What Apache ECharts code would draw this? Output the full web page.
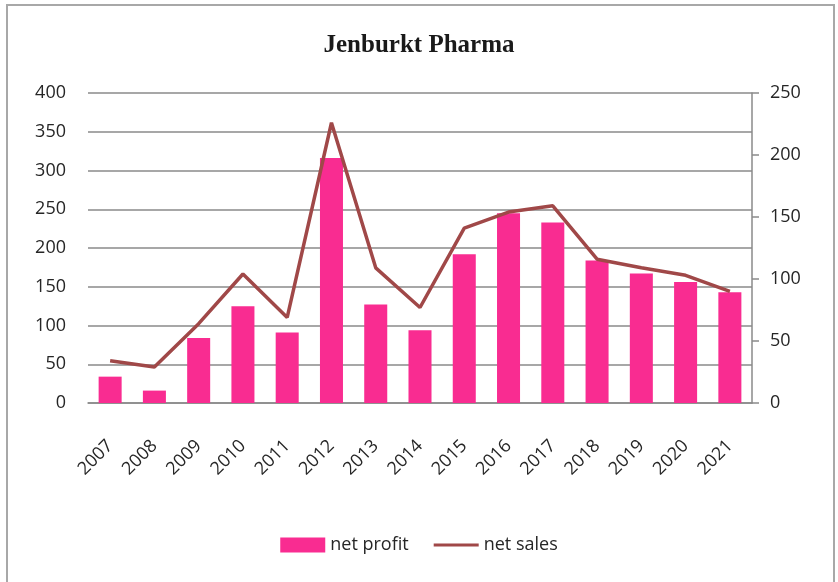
<!DOCTYPE html>
<html>
<head>
<meta charset="utf-8">
<script src="https://cdn.jsdelivr.net/npm/echarts@6/dist/echarts.min.js"></script>
<style>html,body{margin:0;padding:0;background:#fff;}#c{width:838px;height:582px;}</style>
</head>
<body>
<div id="c"></div>
<script>
var years = ['2007','2008','2009','2010','2011','2012','2013','2014','2015','2016','2017','2018','2019','2020','2021'];
var netProfit = [34, 16, 84, 125, 91, 316, 127, 94, 192, 245, 233, 184, 167, 156, 143];
var netSales = [34, 29, 64, 104, 69, 226, 109, 77, 141, 154, 159, 116, 109, 103, 90];
var leftTicks = [0, 400, 50];
var rightTicks = [0, 250, 50];

var chart = echarts.init(document.getElementById('c'), null, {renderer: 'canvas'});
var labelFont = {fontFamily: 'Open Sans', fontSize: 18, color: '#262626'};
chart.setOption({
  backgroundColor: '#fff',
  animation: false,
  graphic: [{
    type: 'rect', shape: {x: 7, y: 5, width: 827, height: 600},
    style: {fill: 'none', stroke: '#a8a8a8', lineWidth: 2}, silent: true
  }],
  title: {
    text: 'Jenburkt Pharma', left: 'center', top: 28,
    textStyle: {fontFamily: 'Liberation Serif', fontWeight: 'bold', fontSize: 25, color: '#1a1a1a'}
  },
  legend: {
    bottom: 23, left: 'center', itemWidth: 45, itemHeight: 15, itemGap: 25,
    textStyle: {fontFamily: 'Open Sans', fontSize: 18, color: '#262626'},
    data: [
      {name: 'net profit', icon: 'rect'},
      {name: 'net sales', icon: 'path://M0,0 M0,6 L45,6 L45,9 L0,9 Z M45,15'}
    ]
  },
  grid: {left: 88, right: 86, top: 93, bottom: 179, containLabel: false},
  xAxis: {
    type: 'category', data: years, boundaryGap: true,
    axisLine: {show: true, lineStyle: {color: '#8a8a8a', width: 1.5}},
    axisTick: {show: false},
    axisLabel: Object.assign({rotate: 45, margin: 40, interval: 0}, labelFont)
  },
  yAxis: [{
    type: 'value', min: leftTicks[0], max: leftTicks[1], interval: leftTicks[2], position: 'left',
    axisLine: {show: false}, axisTick: {show: false},
    splitLine: {show: true, lineStyle: {color: '#8a8a8a', width: 1.5}},
    axisLabel: Object.assign({margin: 22}, labelFont)
  }, {
    type: 'value', min: rightTicks[0], max: rightTicks[1], interval: rightTicks[2], position: 'right',
    axisLine: {show: true, lineStyle: {color: '#8a8a8a', width: 1.5}},
    axisTick: {show: true, length: 7, lineStyle: {color: '#8a8a8a', width: 1.5}},
    splitLine: {show: false},
    axisLabel: Object.assign({margin: 18}, labelFont)
  }],
  series: [{
    name: 'net profit', type: 'bar', data: netProfit, yAxisIndex: 0,
    barCategoryGap: '48%', itemStyle: {color: '#F92C91'}
  }, {
    name: 'net sales', type: 'line', data: netSales, yAxisIndex: 1,
    symbol: 'none', lineStyle: {color: '#A04848', width: 3.5}, itemStyle: {color: '#A04848'}
  }]
});
</script>
</body>
</html>
